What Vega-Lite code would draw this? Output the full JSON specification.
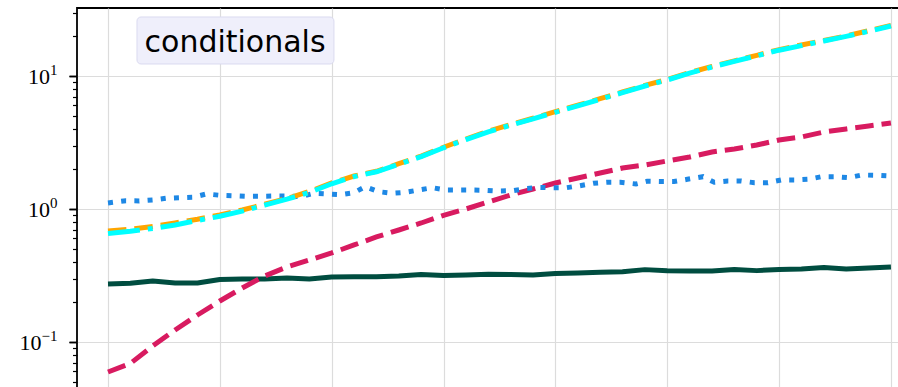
{
  "$schema": "https://vega.github.io/schema/vega-lite/v6.json",
  "width": 823,
  "height": 381,
  "autosize": {"type": "none"},
  "padding": {"left": 77, "top": 8, "right": 0, "bottom": 0},
  "background": "white",
  "config": {"view": {"stroke": "black", "strokeWidth": 1.8}},
  "datasets": {
    "lines": [
      {"s":"green","x":0,"y":0.273},{"s":"green","x":1,"y":0.276},{"s":"green","x":2,"y":0.287},{"s":"green","x":3,"y":0.278},{"s":"green","x":4,"y":0.278},{"s":"green","x":5,"y":0.295},{"s":"green","x":6,"y":0.298},{"s":"green","x":7,"y":0.298},{"s":"green","x":8,"y":0.303},{"s":"green","x":9,"y":0.298},{"s":"green","x":10,"y":0.308},{"s":"green","x":11,"y":0.310},{"s":"green","x":12,"y":0.310},{"s":"green","x":13,"y":0.313},{"s":"green","x":14,"y":0.322},{"s":"green","x":15,"y":0.316},{"s":"green","x":16,"y":0.319},{"s":"green","x":17,"y":0.323},{"s":"green","x":18,"y":0.322},{"s":"green","x":19,"y":0.319},{"s":"green","x":20,"y":0.327},{"s":"green","x":21,"y":0.330},{"s":"green","x":22,"y":0.334},{"s":"green","x":23,"y":0.338},{"s":"green","x":24,"y":0.350},{"s":"green","x":25,"y":0.343},{"s":"green","x":26,"y":0.342},{"s":"green","x":27,"y":0.342},{"s":"green","x":28,"y":0.351},{"s":"green","x":29,"y":0.344},{"s":"green","x":30,"y":0.351},{"s":"green","x":31,"y":0.354},{"s":"green","x":32,"y":0.363},{"s":"green","x":33,"y":0.354},{"s":"green","x":34,"y":0.360},{"s":"green","x":35,"y":0.366},
      {"s":"crimson","x":0,"y":0.0595},{"s":"crimson","x":1,"y":0.069},{"s":"crimson","x":2,"y":0.0933},{"s":"crimson","x":3,"y":0.1231},{"s":"crimson","x":4,"y":0.1596},{"s":"crimson","x":5,"y":0.2033},{"s":"crimson","x":6,"y":0.2547},{"s":"crimson","x":7,"y":0.3135},{"s":"crimson","x":8,"y":0.3663},{"s":"crimson","x":9,"y":0.4135},{"s":"crimson","x":10,"y":0.467},{"s":"crimson","x":11,"y":0.5363},{"s":"crimson","x":12,"y":0.616},{"s":"crimson","x":13,"y":0.695},{"s":"crimson","x":14,"y":0.7847},{"s":"crimson","x":15,"y":0.897},{"s":"crimson","x":16,"y":1.0},{"s":"crimson","x":17,"y":1.129},{"s":"crimson","x":18,"y":1.274},{"s":"crimson","x":19,"y":1.414},{"s":"crimson","x":20,"y":1.569},{"s":"crimson","x":21,"y":1.711},{"s":"crimson","x":22,"y":1.865},{"s":"crimson","x":23,"y":2.034},{"s":"crimson","x":24,"y":2.142},{"s":"crimson","x":25,"y":2.296},{"s":"crimson","x":26,"y":2.46},{"s":"crimson","x":27,"y":2.683},{"s":"crimson","x":28,"y":2.826},{"s":"crimson","x":29,"y":3.028},{"s":"crimson","x":30,"y":3.302},{"s":"crimson","x":31,"y":3.479},{"s":"crimson","x":32,"y":3.794},{"s":"crimson","x":33,"y":3.996},{"s":"crimson","x":34,"y":4.209},{"s":"crimson","x":35,"y":4.433},
      {"s":"blue","x":0,"y":1.110},{"s":"blue","x":0.8,"y":1.154},{"s":"blue","x":1.4,"y":1.149},{"s":"blue","x":2.0,"y":1.169},{"s":"blue","x":2.6,"y":1.204},{"s":"blue","x":3.2,"y":1.216},{"s":"blue","x":3.8,"y":1.225},{"s":"blue","x":4.4,"y":1.297},{"s":"blue","x":5.0,"y":1.268},{"s":"blue","x":5.6,"y":1.259},{"s":"blue","x":6.2,"y":1.246},{"s":"blue","x":6.8,"y":1.246},{"s":"blue","x":7.4,"y":1.252},{"s":"blue","x":8.0,"y":1.252},{"s":"blue","x":8.6,"y":1.237},{"s":"blue","x":9.2,"y":1.312},{"s":"blue","x":9.8,"y":1.297},{"s":"blue","x":10.4,"y":1.281},{"s":"blue","x":11.0,"y":1.326},{"s":"blue","x":11.5,"y":1.472},{"s":"blue","x":12.1,"y":1.349},{"s":"blue","x":12.7,"y":1.312},{"s":"blue","x":13.3,"y":1.335},{"s":"blue","x":13.9,"y":1.390},{"s":"blue","x":14.5,"y":1.446},{"s":"blue","x":15.1,"y":1.390},{"s":"blue","x":15.6,"y":1.390},{"s":"blue","x":16.3,"y":1.390},{"s":"blue","x":16.9,"y":1.382},{"s":"blue","x":17.4,"y":1.366},{"s":"blue","x":18.1,"y":1.373},{"s":"blue","x":18.7,"y":1.426},{"s":"blue","x":19.3,"y":1.451},{"s":"blue","x":19.9,"y":1.446},{"s":"blue","x":20.5,"y":1.446},{"s":"blue","x":21.1,"y":1.497},{"s":"blue","x":21.7,"y":1.561},{"s":"blue","x":22.3,"y":1.588},{"s":"blue","x":22.9,"y":1.588},{"s":"blue","x":23.6,"y":1.542},{"s":"blue","x":24.1,"y":1.615},{"s":"blue","x":24.8,"y":1.607},{"s":"blue","x":25.3,"y":1.607},{"s":"blue","x":25.9,"y":1.672},{"s":"blue","x":26.6,"y":1.750},{"s":"blue","x":27.1,"y":1.588},{"s":"blue","x":27.7,"y":1.623},{"s":"blue","x":28.3,"y":1.623},{"s":"blue","x":28.9,"y":1.576},{"s":"blue","x":29.5,"y":1.576},{"s":"blue","x":30.1,"y":1.652},{"s":"blue","x":30.7,"y":1.652},{"s":"blue","x":31.3,"y":1.672},{"s":"blue","x":31.9,"y":1.750},{"s":"blue","x":32.5,"y":1.750},{"s":"blue","x":33.1,"y":1.719},{"s":"blue","x":33.7,"y":1.801},{"s":"blue","x":34.3,"y":1.793},{"s":"blue","x":35,"y":1.770},
      {"s":"orange","x":0,"y":0.683},{"s":"orange","x":1,"y":0.704},{"s":"orange","x":2,"y":0.739},{"s":"orange","x":3,"y":0.785},{"s":"orange","x":4,"y":0.837},{"s":"orange","x":5,"y":0.901},{"s":"orange","x":6,"y":0.983},{"s":"orange","x":7,"y":1.085},{"s":"orange","x":8,"y":1.199},{"s":"orange","x":9,"y":1.354},{"s":"orange","x":10,"y":1.569},{"s":"orange","x":11,"y":1.77},{"s":"orange","x":12,"y":1.92},{"s":"orange","x":13,"y":2.19},{"s":"orange","x":14,"y":2.50},{"s":"orange","x":15,"y":2.91},{"s":"orange","x":16,"y":3.36},{"s":"orange","x":17,"y":3.84},{"s":"orange","x":18,"y":4.31},{"s":"orange","x":19,"y":4.81},{"s":"orange","x":20,"y":5.39},{"s":"orange","x":21,"y":6.03},{"s":"orange","x":22,"y":6.75},{"s":"orange","x":23,"y":7.58},{"s":"orange","x":24,"y":8.49},{"s":"orange","x":25,"y":9.42},{"s":"orange","x":26,"y":10.6},{"s":"orange","x":27,"y":11.8},{"s":"orange","x":28,"y":13.0},{"s":"orange","x":29,"y":14.3},{"s":"orange","x":30,"y":15.8},{"s":"orange","x":31,"y":17.1},{"s":"orange","x":32,"y":18.5},{"s":"orange","x":33,"y":20.0},{"s":"orange","x":34,"y":21.9},{"s":"orange","x":35,"y":24.0},
      {"s":"cyan","x":0,"y":0.654},{"s":"cyan","x":1,"y":0.680},{"s":"cyan","x":2,"y":0.714},{"s":"cyan","x":3,"y":0.758},{"s":"cyan","x":4,"y":0.821},{"s":"cyan","x":5,"y":0.881},{"s":"cyan","x":6,"y":0.964},{"s":"cyan","x":7,"y":1.068},{"s":"cyan","x":8,"y":1.185},{"s":"cyan","x":9,"y":1.331},{"s":"cyan","x":10,"y":1.547},{"s":"cyan","x":11,"y":1.752},{"s":"cyan","x":12,"y":1.904},{"s":"cyan","x":13,"y":2.168},{"s":"cyan","x":14,"y":2.477},{"s":"cyan","x":15,"y":2.885},{"s":"cyan","x":16,"y":3.326},{"s":"cyan","x":17,"y":3.806},{"s":"cyan","x":18,"y":4.267},{"s":"cyan","x":19,"y":4.767},{"s":"cyan","x":20,"y":5.335},{"s":"cyan","x":21,"y":5.97},{"s":"cyan","x":22,"y":6.68},{"s":"cyan","x":23,"y":7.502},{"s":"cyan","x":24,"y":8.41},{"s":"cyan","x":25,"y":9.33},{"s":"cyan","x":26,"y":10.5},{"s":"cyan","x":27,"y":11.69},{"s":"cyan","x":28,"y":12.88},{"s":"cyan","x":29,"y":14.19},{"s":"cyan","x":30,"y":15.63},{"s":"cyan","x":31,"y":16.93},{"s":"cyan","x":32,"y":18.33},{"s":"cyan","x":33,"y":19.85},{"s":"cyan","x":34,"y":21.68},{"s":"cyan","x":35,"y":23.76}
    ]
  },
  "layer": [
    {
      "data": {"name": "lines"},
      "encoding": {
        "x": {"field": "x", "type": "quantitative",
          "scale": {"domain": [-1.3858, 35.405], "nice": false, "zero": false},
          "axis": {"values": [0,5,10,15,20,25,30,35], "grid": true, "gridColor": "#dcdcdc", "gridWidth": 1.2, "labels": false, "ticks": false, "domain": false, "title": null}},
        "y": {"field": "y", "type": "quantitative",
          "scale": {"type": "log", "domain": [0.04431, 32.45], "nice": false},
          "axis": {"orient": "left", "values": [0.1, 1, 10], "labelExpr": "'10'", "title": null,
            "grid": true, "gridColor": "#dcdcdc", "gridWidth": 1.2, "domain": false,
            "ticks": true, "tickSize": 8, "tickWidth": 1.5, "tickColor": "black",
            "labelFont": "Liberation Serif", "labelFontSize": 22, "labelColor": "black",
            "labelBaseline": "alphabetic", "labelOffset": 8,
            "labelPadding": {"condition": {"test": "datum.value < 0.5", "value": 28}, "value": 19.5}}}
      },
      "layer": [
        {"transform": [{"filter": "datum.s === 'green'"}], "mark": {"type": "line", "color": "#004d40", "strokeWidth": 5, "strokeJoin": "round"}},
        {"transform": [{"filter": "datum.s === 'crimson'"}], "mark": {"type": "line", "color": "#d81b60", "strokeWidth": 5, "strokeDash": [18.5, 8], "strokeCap": "butt"}},
        {"transform": [{"filter": "datum.s === 'blue'"}], "mark": {"type": "line", "color": "#1e88e5", "strokeWidth": 5, "strokeDash": [5, 8.25], "strokeCap": "butt"}},
        {"transform": [{"filter": "datum.s === 'orange'"}], "mark": {"type": "line", "color": "#ffa500", "strokeWidth": 5, "strokeDash": [18.5, 8], "strokeCap": "butt"}},
        {"transform": [{"filter": "datum.s === 'cyan'"}], "mark": {"type": "line", "color": "#00ffff", "strokeWidth": 5, "strokeDash": [32, 8, 5, 8], "strokeCap": "butt"}}
      ]
    },
    {
      "data": {"values": [{"label": "conditionals"}]},
      "mark": {"type": "rect", "fill": "#efeffb", "stroke": "#dadaf0", "strokeWidth": 1, "cornerRadius": 4},
      "encoding": {
        "x": {"datum": 1.296, "type": "quantitative", "scale": {"domain": [-1.3858, 35.405], "nice": false, "zero": false}},
        "x2": {"datum": 10.10},
        "y": {"datum": 27.77, "type": "quantitative",
          "scale": {"type": "log", "domain": [0.04431, 32.45], "nice": false},
          "axis": {"orient": "left", "values": [0.05,0.06,0.07,0.08,0.09,0.2,0.3,0.4,0.5,0.6,0.7,0.8,0.9,2,3,4,5,6,7,8,9,20,30],
            "labels": false, "grid": false, "domain": false, "title": null,
            "ticks": true, "tickSize": 4.5, "tickWidth": 1.2, "tickColor": "black"}},
        "y2": {"datum": 12.31}
      }
    },
    {
      "data": {"values": [{"label": "conditionals"}]},
      "mark": {"type": "text", "font": "DejaVu Sans", "fontSize": 30, "align": "center", "baseline": "alphabetic", "color": "black"},
      "encoding": {
        "x": {"datum": 5.68, "type": "quantitative", "scale": {"domain": [-1.3858, 35.405], "nice": false, "zero": false}},
        "y": {"datum": 15.23, "type": "quantitative",
          "scale": {"type": "log", "domain": [0.04431, 32.45], "nice": false},
          "axis": {"orient": "left", "values": [0.1, 1, 10], "title": null,
            "labelExpr": "datum.value > 5 ? '1' : (datum.value > 0.5 ? '0' : '−1')",
            "grid": false, "domain": false, "ticks": true, "tickSize": 8, "tickWidth": 1.5, "tickColor": "black",
            "labelFont": "Liberation Serif", "labelFontSize": 15, "labelColor": "black",
            "labelBaseline": "alphabetic", "labelOffset": -1, "labelPadding": 12}},
        "text": {"field": "label"}
      }
    }
  ],
  "resolve": {"scale": {"y": "independent"}, "axis": {"y": "independent"}}
}
